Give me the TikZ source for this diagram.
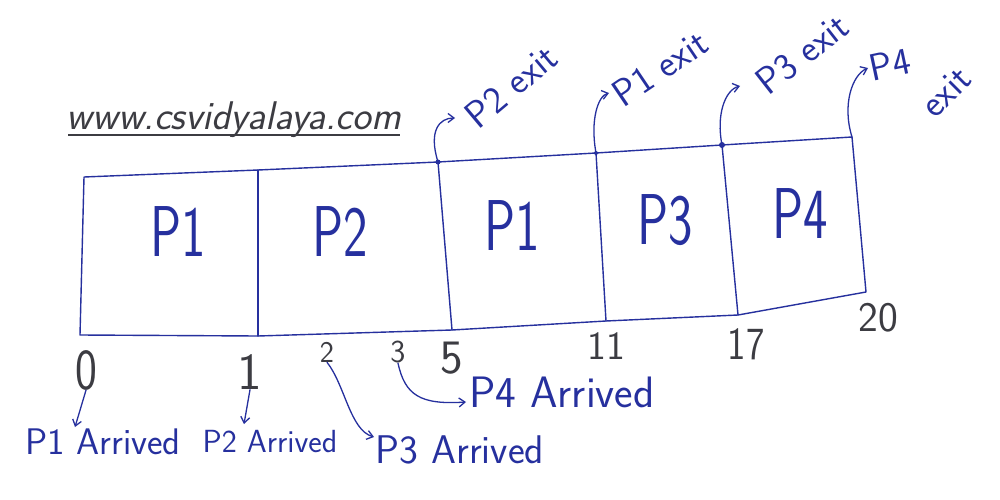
\documentclass[tikz,border=0pt]{standalone}
\usetikzlibrary{arrows.meta}
\definecolor{pen}{RGB}{38,48,158}
\definecolor{ink}{RGB}{60,60,66}
\begin{document}
\begin{tikzpicture}[x=1pt,y=-1pt,
  edge/.style={draw=pen,line width=1.4pt,line join=round,line cap=round},
  arr/.style={draw=pen,line width=1.3pt,line cap=round,-{Straight Barb[length=6pt,width=9pt]}},
  cell/.style={text=pen,font=\sffamily\fontsize{72}{72}\selectfont,xscale=0.72,inner sep=0},
  num/.style={text=ink,inner sep=0},
  lbl/.style={text=pen,inner sep=0},
  exitlbl/.style={text=pen,font=\sffamily\fontsize{38}{38}\selectfont,inner sep=0}]
\useasboundingbox (0,0) rectangle (1000,500);
\fill[white] (0,0) rectangle (1000,500);
% box corners
\coordinate (tl) at (84,177);
\coordinate (t1) at (258,170);
\coordinate (t2) at (438,162);
\coordinate (t3) at (596,153);
\coordinate (t4) at (722,145);
\coordinate (tr) at (852,137);
\coordinate (bl) at (80,335);
\coordinate (b1) at (258,336);
\coordinate (b2) at (452,330);
\coordinate (b3) at (606,321);
\coordinate (b4) at (738,315);
\coordinate (br) at (866,292);
\draw[edge] (tl) -- (t1) -- (t2) -- (t3) -- (t4) -- (tr) -- (br)
  -- (b4) -- (b3) -- (b2) -- (b1) -- (bl) -- (tl);
\draw[edge] (t1) -- (b1);
\draw[edge] (t2) -- (b2);
\draw[edge] (t3) -- (b3);
\draw[edge] (t4) -- (b4);
% cells
\node[cell] (c1) at (178,232) {P1};
\node[cell] (c2) at (340,232) {P2};
\node[cell] (c3) at (512,226) {P1};
\node[cell] (c4) at (665,220) {P3};
\node[cell] (c5) at (800,214) {P4};
% url
\node[text=ink,font=\sffamily\itshape\fontsize{40}{40}\selectfont,inner sep=0,anchor=base] (url) at (234,129) {www.csvidyalaya.com};
\coordinate (u1) at (68,135);
\coordinate (u2) at (400,135);
\draw[ink,line width=1.3pt] (u1) -- (u2);
% times
\node[num,font=\sffamily\fontsize{58}{58}\selectfont,xscale=0.8] (n0) at (86,370) {0};
\node[num,font=\sffamily\fontsize{52}{52}\selectfont] (n1) at (250,372) {1};
\node[num,font=\sffamily\fontsize{30}{30}\selectfont] (n2) at (327,352) {2};
\node[num,font=\sffamily\fontsize{32}{32}\selectfont] (n3) at (398,352) {3};
\node[num,font=\sffamily\fontsize{48}{48}\selectfont] (n5) at (452,358) {5};
\node[num,font=\sffamily\fontsize{40}{40}\selectfont] (n11) at (606,346) {11};
\node[num,font=\sffamily\fontsize{46}{46}\selectfont,xscale=0.85] (n17) at (746,344) {17};
\node[num,font=\sffamily\fontsize{42}{42}\selectfont] (n20) at (878,318) {20};
% arrivals
\node[lbl,font=\sffamily\fontsize{37}{37}\selectfont] (a1) at (103,442) {P1 Arrived};
\node[lbl,font=\sffamily\fontsize{32}{32}\selectfont] (a2) at (270,442) {P2 Arrived};
\node[lbl,font=\sffamily\fontsize{40}{40}\selectfont] (a3) at (460,450) {P3 Arrived};
\node[lbl,font=\sffamily\fontsize{44}{44}\selectfont] (a4) at (562,392) {P4 Arrived};
\coordinate (e1) at (75,427);
\coordinate (e2) at (244,424);
\coordinate (e3) at (374,437);
\coordinate (e4) at (466,402);
\draw[arr] (n0.south) -- (e1);
\draw[arr] (n1.south) -- (e2);
\draw[arr] (n2.south) .. controls (345,385) and (350,430) .. (e3);
\draw[arr] (n3.south) .. controls (405,395) and (420,405) .. (e4);
% exits
\node[exitlbl,rotate=40] (x2) at (511,86) {P2 exit};
\node[exitlbl,rotate=34] (x1) at (660,68) {P1 exit};
\node[exitlbl,rotate=38] (x3) at (802,54) {P3 exit};
\node[exitlbl,rotate=12] (x4a) at (890,64) {P4};
\node[exitlbl,rotate=45] (x4b) at (946,92) {exit};
\coordinate (f2) at (455,118);
\coordinate (f1) at (609,93);
\coordinate (f3) at (740,86);
\coordinate (f4) at (868,68);
\draw[arr] (t2) .. controls (428,130) and (440,118) .. (f2);
\draw[arr] (t3) .. controls (590,120) and (598,96) .. (f1);
\draw[arr] (t4) .. controls (716,115) and (725,90) .. (f3);
\draw[arr] (tr) .. controls (842,105) and (852,75) .. (f4);
\fill[pen] (t2) circle (2.5pt);
\fill[pen] (t3) circle (2pt);
\fill[pen] (t4) circle (3pt);
\end{tikzpicture}
\end{document}
